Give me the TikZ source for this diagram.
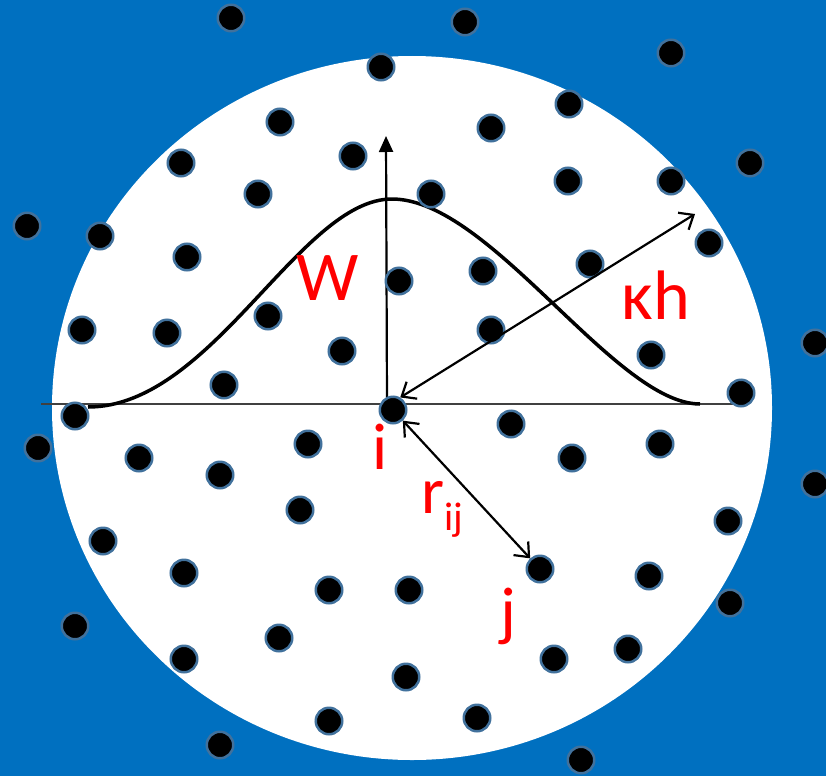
\documentclass[tikz,border=0pt]{standalone}
\usepackage{fontspec}
\setmainfont{Carlito}
\usetikzlibrary{arrows.meta}
\definecolor{seablue}{RGB}{0,112,192}
\definecolor{rimblue}{RGB}{65,113,156}
\definecolor{axisgray}{RGB}{64,64,64}

\begin{document}
\begin{tikzpicture}[
    x=1pt, y=-1pt,
    particle/.style={circle, fill=black, draw=rimblue, line width=2.5pt,
      minimum size=26.5pt, inner sep=0pt},
    lbl/.style={text=red, inner sep=0pt, anchor=base},
    barb/.style={line width=2.2pt,
      {Straight Barb[length=12pt,width=20pt]}-{Straight Barb[length=12pt,width=20pt]}},
  ]
  \useasboundingbox (0,0) rectangle (826,776);
  % sea of particles and the support domain
  \fill[seablue] (0,0) rectangle (826,776);
  \fill[white] (412,408) ellipse [x radius=360, y radius=352];

  \coordinate (axl) at (41,404);
  \coordinate (axr) at (741,404);
  \coordinate (o) at (387,404);
  \coordinate (top) at (386,136);
  \coordinate (kend) at (695,214);

  \draw[axisgray, line width=2.2pt] (axl) -- (axr);
  \draw[line width=2.2pt, -{Triangle[length=16pt,width=14pt]}] (o) -- (top);
  % kernel W
  \draw[line width=3.5pt] (88,407) .. controls (212,407) and (300,199) .. (392,199)
    .. controls (490,199) and (615,404) .. (700,404);

  \foreach \px/\py [count=\k] in {231/18, 465/22, 671/53, 750/163, 27/226,
      815/343, 38/448, 815/484, 75/626, 730/603, 220/745, 581/760,
      381/67, 569/104, 280/122, 491/128, 181/163, 353/156, 568/181,
      671/181, 258/194, 431/194, 100/236, 187/257, 709/243, 590/264,
      483/271, 399/281, 268/316, 82/330, 167/333, 491/330, 342/351,
      651/355, 224/385, 741/393, 75/416, 511/424, 308/444, 660/444,
      139/458, 220/475, 572/458, 300/510, 728/521, 103/541, 184/573,
      649/576, 329/590, 409/590, 279/638, 184/659, 554/659, 628/649,
      406/677, 329/721, 477/718}
    \node[particle] (p\k) at (\px,\py) {};
  \node[particle] (i) at (393,410) {};
  \node[particle] (j) at (540,569) {};

  \draw[barb] (i.60) -- (kend);
  \draw[barb] (i) -- (j);

  \node[lbl, font=\fontsize{70}{70}\selectfont] (wlab) at (328,300) {W};
  \node[lbl, font=\fontsize{70}{70}\selectfont] (kappalab) at (656,319) {κh};
  \node[lbl, font=\fontsize{66}{66}\selectfont] (ilab) at (380,469) {i};
  \node[lbl, font=\fontsize{66}{66}\selectfont] (jlab) at (508,633) {j};
  \node[lbl, anchor=base west, font=\fontsize{66}{66}\selectfont] (rlab) at (421,513)
    {r\raisebox{-17pt}{\fontsize{40}{40}\selectfont ij}};
\end{tikzpicture}
\end{document}
